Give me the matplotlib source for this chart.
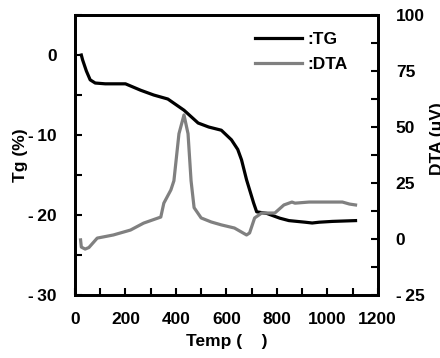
import matplotlib
matplotlib.use("Agg")
import matplotlib.pyplot as plt
from matplotlib.ticker import MultipleLocator

plt.rcParams['font.family'] = ['Liberation Sans', 'DejaVu Sans']
plt.rcParams['font.weight'] = 'bold'
plt.rcParams['font.size'] = 12

# TG curve (temperature, weight change %)
tg_temp = [25, 30, 45, 60, 80, 120, 200, 260, 312, 368, 432, 488, 530, 580,
           620, 645, 660, 680, 708, 720, 760, 812, 848, 912, 940, 968, 1020, 1112]
tg_val = [0.0, -0.6, -2.0, -3.1, -3.5, -3.6, -3.6, -4.4, -5.0, -5.5, -6.9, -8.5,
          -9.0, -9.4, -10.6, -11.8, -13.1, -15.6, -18.5, -19.6, -19.8, -20.4,
          -20.7, -20.9, -21.0, -20.9, -20.8, -20.7]

# DTA curve (temperature, microvolts)
dta_temp = [22, 25, 40, 55, 88, 152, 220, 272, 340, 352, 380, 392, 412, 432,
            448, 460, 472, 500, 540, 580, 632, 680, 692, 712, 740, 792, 828,
            860, 872, 928, 1060, 1088, 1112]
dta_val = [-0.4, -3.6, -4.5, -3.8, 0.4, 1.8, 4.0, 7.1, 9.8, 16.0, 21.9, 26.0,
           47.0, 55.4, 47.0, 26.0, 14.0, 9.4, 7.6, 6.3, 4.9, 1.8, 2.7, 9.4,
           11.6, 11.6, 15.2, 16.5, 16.0, 16.5, 16.5, 15.6, 15.2]

xticks = [0, 200, 400, 600, 800, 1000, 1200]
tg_ticks = [-30, -20, -10, 0]
dta_ticks = [-25, 0, 25, 50, 75, 100]


def lab(v):
    # reference shows a gap after the minus sign
    return ('-\u2009' + str(-v)) if v < 0 else str(v)


fig = plt.figure(figsize=(4.4, 3.58), dpi=100)
ax = fig.add_axes([0.1705, 0.176, 0.688, 0.782])
ax2 = ax.twinx()

l1, = ax.plot(tg_temp, tg_val, color='black', lw=2.3, label=':TG')
l2, = ax2.plot(dta_temp, dta_val, color='#808080', lw=2.3, label=':DTA')

ax.set_xlim(0, 1200)
ax.set_ylim(-30, 5)
ax2.set_ylim(-25, 100)

ax.set_xticks(xticks)
ax.set_yticks(tg_ticks)
ax2.set_yticks(dta_ticks)
ax.xaxis.set_minor_locator(MultipleLocator(100))
ax.yaxis.set_minor_locator(MultipleLocator(5))
ax2.yaxis.set_minor_locator(MultipleLocator(12.5))

ax.set_xticklabels([str(v) for v in xticks])
ax.set_yticklabels([lab(v) for v in tg_ticks])
ax2.set_yticklabels([lab(v) for v in dta_ticks])

for a in (ax, ax2):
    a.tick_params(which='both', direction='in', width=1.5, length=5,
                  labelsize=12.5, pad=13)
    for s in a.spines.values():
        s.set_linewidth(2)
ax.tick_params(axis='x', pad=12)
ax.tick_params(top=False, right=False, which='both')

ax.set_xlabel('Temp (    )', fontsize=12.5, fontweight='bold')
ax.xaxis.set_label_coords(0.5, -0.14)
ax.set_ylabel('Tg (%)', fontsize=12.5, fontweight='bold')
ax.yaxis.set_label_coords(-0.155, 0.5)
ax2.set_ylabel('DTA (μV)', fontsize=12.5, fontweight='bold')
ax2.yaxis.set_label_coords(1.172, 0.56)

ax2.legend([l1, l2], [':TG', ':DTA'], loc='upper left', frameon=False,
           handlelength=2.7, handletextpad=0.35, labelspacing=0.55,
           borderpad=0, borderaxespad=0, bbox_to_anchor=(0.594, 0.94),
           fontsize=12.5)

fig.savefig('out.png', dpi=100)
